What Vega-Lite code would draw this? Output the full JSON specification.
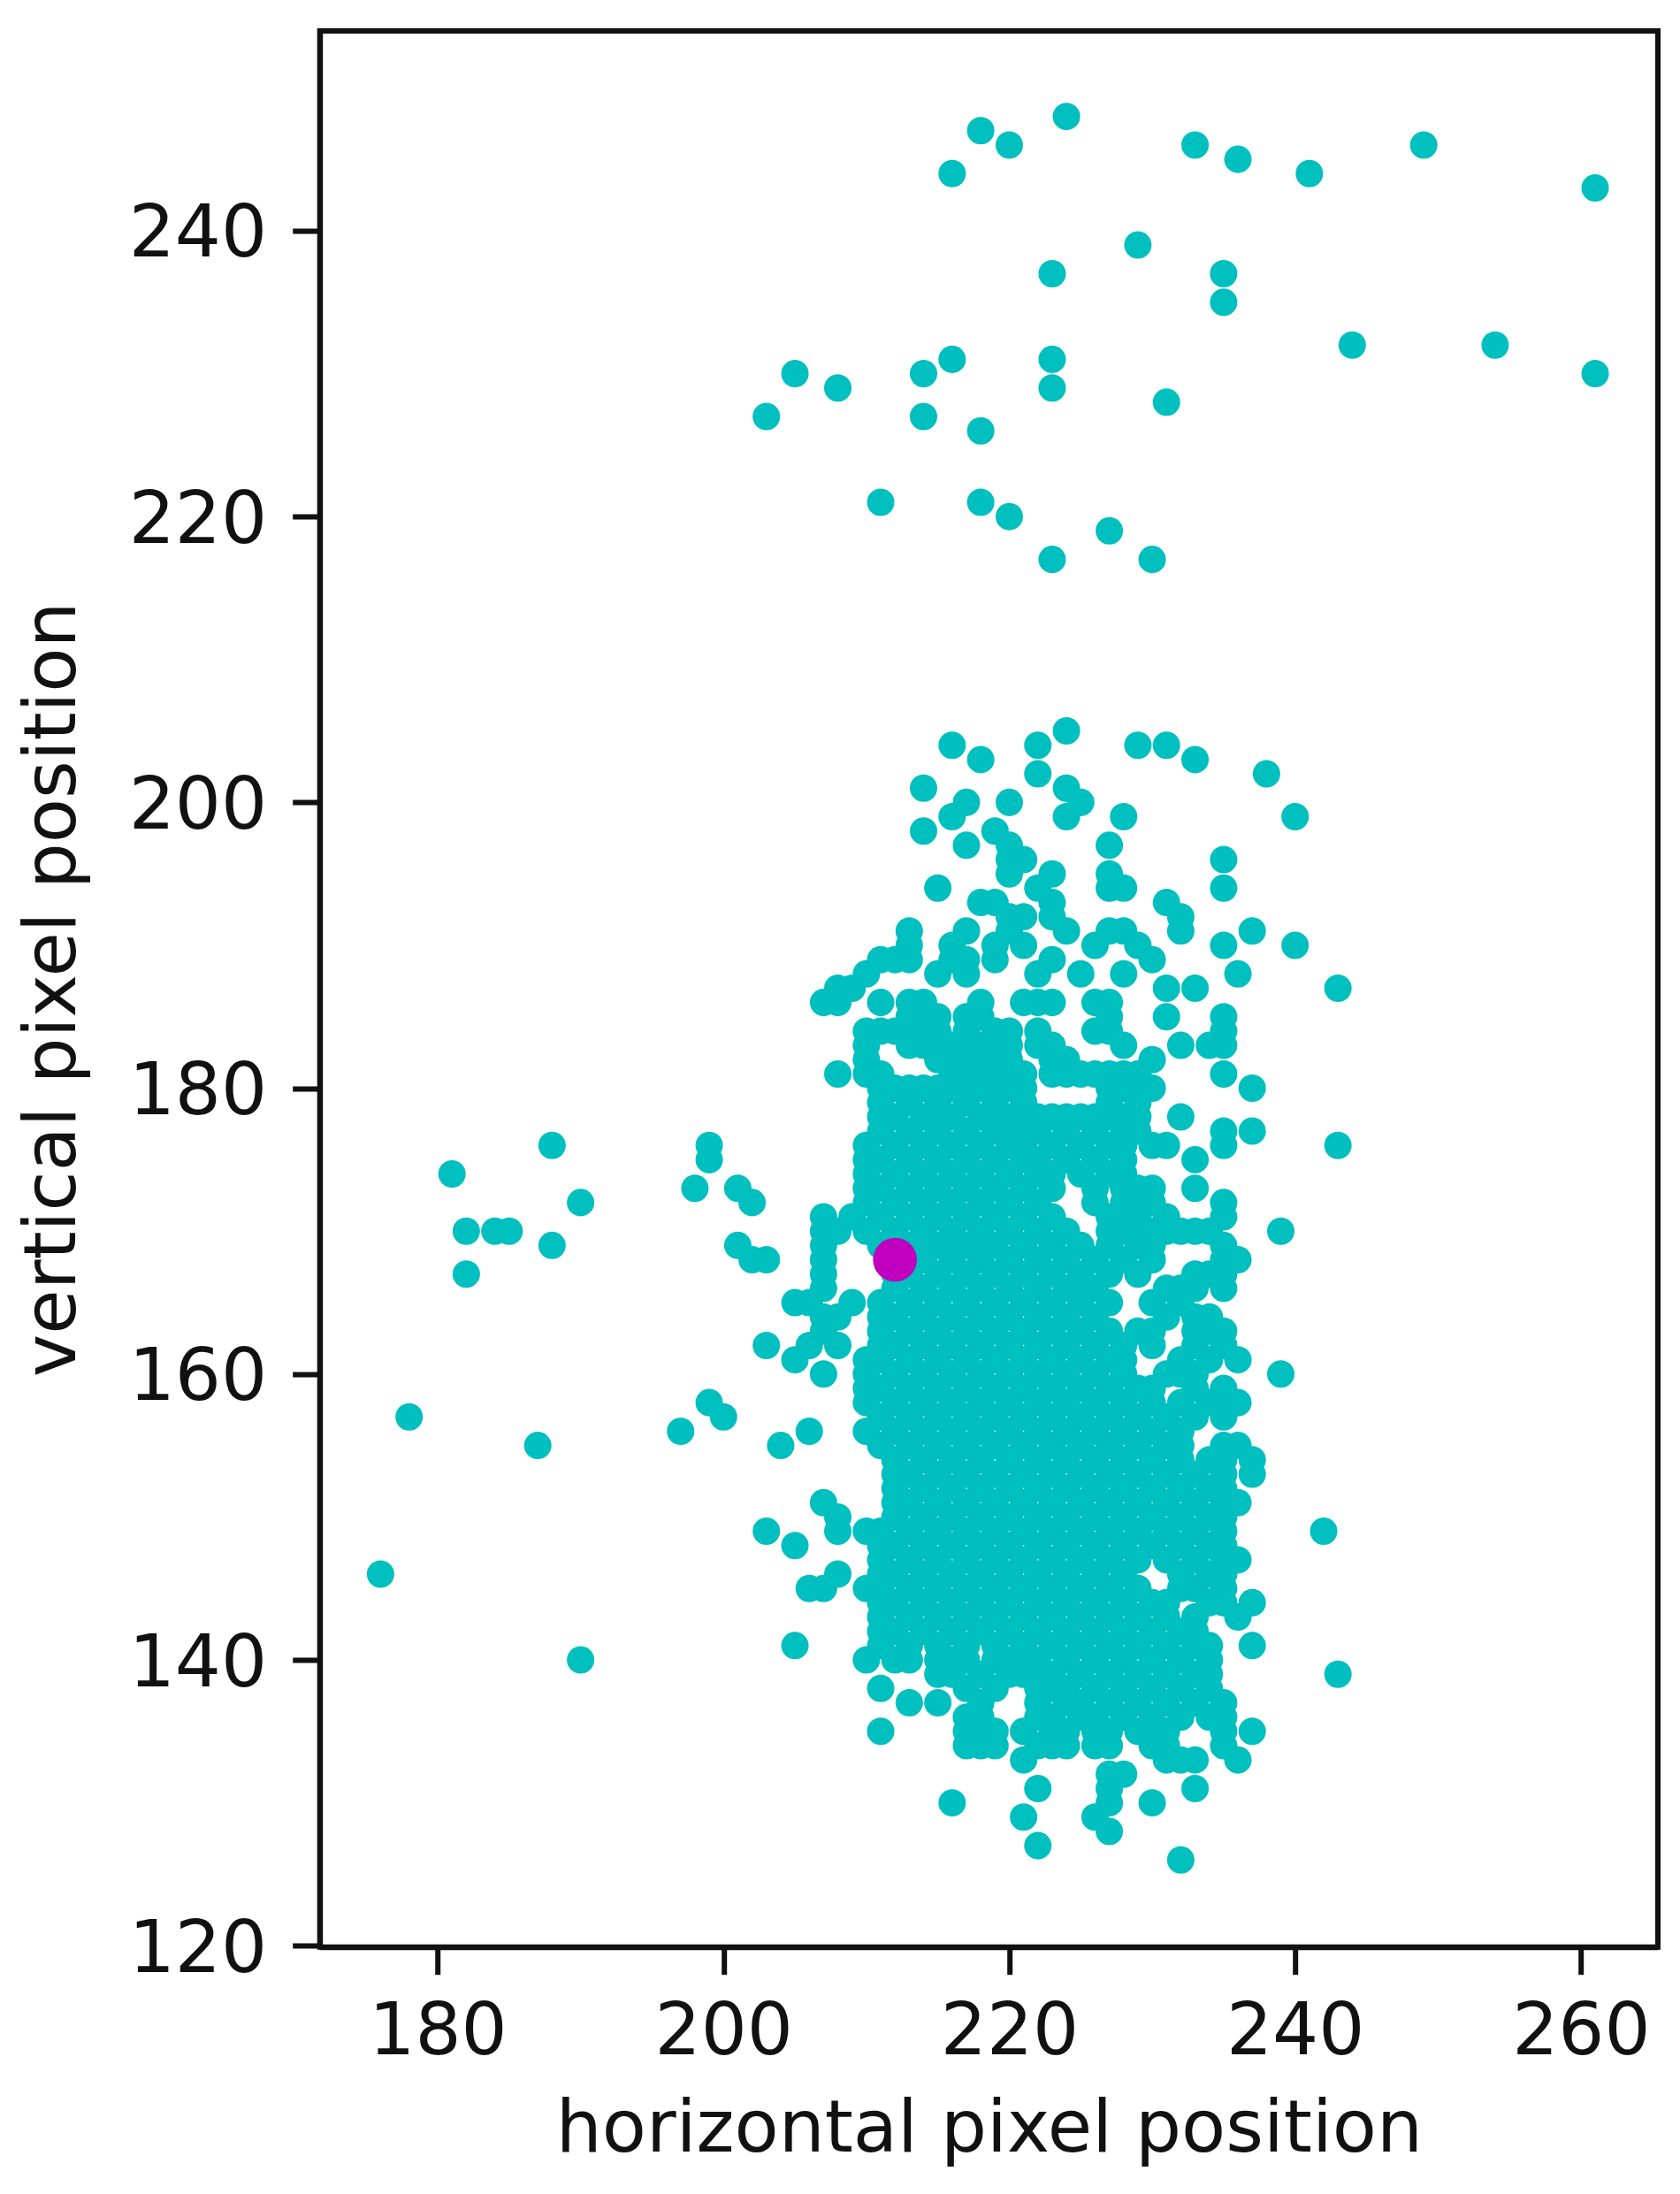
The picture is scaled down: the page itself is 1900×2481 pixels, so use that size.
{"$schema":"https://vega.github.io/schema/vega-lite/v6.json","width":1513.3,"height":2166.7,"autosize":{"type":"none"},"padding":{"left":361.7,"top":35,"right":25,"bottom":279.3},"background":"white","config":{"view":{"stroke":"#111","strokeWidth":6},"font":"DejaVu Sans"},
"datasets":{"cloud":[
{"x":224,"y":248},{"x":218,"y":247},{"x":220,"y":246},{"x":233,"y":246},{"x":249,"y":246},{"x":236,"y":245},{"x":216,"y":244},{"x":241,"y":244},{"x":261,"y":243},{"x":229,"y":239},{"x":223,"y":237},{"x":235,"y":237},{"x":235,"y":235},{"x":244,"y":232},{"x":254,"y":232},{"x":216,"y":231},{"x":223,"y":231},{"x":205,"y":230},{"x":214,"y":230},{"x":261,"y":230},{"x":208,"y":229},{"x":223,"y":229},{"x":231,"y":228},{"x":203,"y":227},{"x":214,"y":227},{"x":218,"y":226},{"x":211,"y":221},{"x":218,"y":221},{"x":220,"y":220},{"x":227,"y":219},{"x":223,"y":217},{"x":230,"y":217},
{"x":181,"y":174},{"x":182,"y":170},{"x":184,"y":170},{"x":185,"y":170},{"x":182,"y":167},{"x":188,"y":176},{"x":188,"y":169},{"x":190,"y":172},{"x":178,"y":157},{"x":187,"y":155},{"x":176,"y":146},{"x":190,"y":140},{"x":199,"y":176},{"x":199,"y":175},{"x":198,"y":173},{"x":201,"y":173},{"x":202,"y":172},{"x":201,"y":169},{"x":202,"y":168},{"x":203,"y":168},{"x":205,"y":165},{"x":203,"y":162},{"x":205,"y":161},{"x":199,"y":158},{"x":200,"y":157},{"x":197,"y":156},{"x":204,"y":155},{"x":206,"y":156},{"x":203,"y":149},{"x":205,"y":148},{"x":205,"y":141},{"x":206,"y":145},{"x":207,"y":145},
{"x":224,"y":205},{"x":216,"y":204},{"x":222,"y":204},{"x":229,"y":204},{"x":231,"y":204},{"x":218,"y":203},{"x":233,"y":203},{"x":222,"y":202},{"x":238,"y":202},{"x":214,"y":201},{"x":224,"y":201},{"x":217,"y":200},{"x":220,"y":200},{"x":225,"y":200},{"x":216,"y":199},{"x":224,"y":199},{"x":228,"y":199},{"x":240,"y":199},{"x":214,"y":198},{"x":219,"y":198},{"x":217,"y":197},{"x":220,"y":197},{"x":227,"y":197},{"x":221,"y":196},{"x":220,"y":196},{"x":235,"y":196},{"x":220,"y":195},{"x":223,"y":195},{"x":227,"y":195},{"x":215,"y":194},{"x":222,"y":194},{"x":227,"y":194},{"x":228,"y":194},{"x":235,"y":194},{"x":218,"y":193},{"x":219,"y":193},{"x":223,"y":193},{"x":231,"y":193},{"x":220,"y":192},{"x":221,"y":192},{"x":223,"y":192},{"x":232,"y":192},{"x":213,"y":191},{"x":217,"y":191},{"x":220,"y":191},{"x":224,"y":191},{"x":227,"y":191},{"x":228,"y":191},{"x":232,"y":191},{"x":237,"y":191},{"x":213,"y":190},{"x":216,"y":190},{"x":219,"y":190},{"x":221,"y":190},{"x":226,"y":190},{"x":229,"y":190},{"x":235,"y":190},{"x":240,"y":190},{"x":211,"y":189},{"x":212,"y":189},{"x":213,"y":189},{"x":216,"y":189},{"x":217,"y":189},{"x":219,"y":189},{"x":223,"y":189},{"x":230,"y":189},{"x":210,"y":188},{"x":215,"y":188},{"x":217,"y":188},{"x":222,"y":188},{"x":225,"y":188},{"x":228,"y":188},{"x":236,"y":188},{"x":208,"y":187},{"x":209,"y":187},{"x":231,"y":187},{"x":233,"y":187},{"x":243,"y":187},{"x":207,"y":186},{"x":208,"y":186},{"x":211,"y":186},{"x":213,"y":186},{"x":214,"y":186},{"x":218,"y":186},{"x":221,"y":186},{"x":222,"y":186},{"x":223,"y":186},{"x":226,"y":186},{"x":227,"y":186},{"x":213,"y":185},{"x":214,"y":185},{"x":215,"y":185},{"x":217,"y":185},{"x":218,"y":185},{"x":227,"y":185},{"x":231,"y":185},{"x":235,"y":185},
{"x":210,"y":184},{"x":211,"y":184},{"x":212,"y":184},{"x":213,"y":184},{"x":214,"y":184},{"x":215,"y":184},{"x":217,"y":184},{"x":219,"y":184},{"x":220,"y":184},{"x":222,"y":184},{"x":226,"y":184},{"x":227,"y":184},{"x":235,"y":184},
{"x":210,"y":183},{"x":213,"y":183},{"x":214,"y":183},{"x":215,"y":183},{"x":216,"y":183},{"x":217,"y":183},{"x":218,"y":183},{"x":219,"y":183},{"x":220,"y":183},{"x":222,"y":183},{"x":223,"y":183},{"x":228,"y":183},{"x":232,"y":183},{"x":234,"y":183},{"x":235,"y":183},
{"x":210,"y":182},{"x":215,"y":182},{"x":216,"y":182},{"x":217,"y":182},{"x":218,"y":182},{"x":219,"y":182},{"x":220,"y":182},{"x":223,"y":182},{"x":224,"y":182},{"x":230,"y":182},
{"x":208,"y":181},{"x":210,"y":181},{"x":211,"y":181},{"x":216,"y":181},{"x":217,"y":181},{"x":218,"y":181},{"x":219,"y":181},{"x":220,"y":181},{"x":221,"y":181},{"x":223,"y":181},{"x":224,"y":181},{"x":225,"y":181},{"x":226,"y":181},{"x":227,"y":181},{"x":228,"y":181},{"x":229,"y":181},{"x":235,"y":181},
{"x":211,"y":180},{"x":212,"y":180},{"x":213,"y":180},{"x":214,"y":180},{"x":215,"y":180},{"x":216,"y":180},{"x":217,"y":180},{"x":218,"y":180},{"x":219,"y":180},{"x":220,"y":180},{"x":221,"y":180},{"x":227,"y":180},{"x":228,"y":180},{"x":229,"y":180},{"x":230,"y":180},{"x":237,"y":180},
{"x":211,"y":179},{"x":213,"y":179},{"x":215,"y":179},{"x":217,"y":179},{"x":219,"y":179},{"x":221,"y":179},{"x":227,"y":179},{"x":229,"y":179},
{"x":211,"y":178},{"x":212,"y":178},{"x":214,"y":178},{"x":215,"y":178},{"x":216,"y":178},{"x":218,"y":178},{"x":219,"y":178},{"x":220,"y":178},{"x":221,"y":178},{"x":222,"y":178},{"x":223,"y":178},{"x":224,"y":178},{"x":225,"y":178},{"x":226,"y":178},{"x":227,"y":178},{"x":228,"y":178},{"x":229,"y":178},{"x":232,"y":178},
{"x":211,"y":177},{"x":213,"y":177},{"x":215,"y":177},{"x":217,"y":177},{"x":219,"y":177},{"x":220,"y":177},{"x":221,"y":177},{"x":222,"y":177},{"x":224,"y":177},{"x":226,"y":177},{"x":228,"y":177},{"x":229,"y":177},{"x":235,"y":177},{"x":237,"y":177},
{"x":210,"y":176},{"x":212,"y":176},{"x":214,"y":176},{"x":216,"y":176},{"x":218,"y":176},{"x":220,"y":176},{"x":221,"y":176},{"x":223,"y":176},{"x":225,"y":176},{"x":227,"y":176},{"x":228,"y":176},{"x":230,"y":176},{"x":231,"y":176},{"x":235,"y":176},{"x":243,"y":176},
{"x":210,"y":175},{"x":211,"y":175},{"x":213,"y":175},{"x":215,"y":175},{"x":217,"y":175},{"x":219,"y":175},{"x":221,"y":175},{"x":222,"y":175},{"x":224,"y":175},{"x":226,"y":175},{"x":228,"y":175},{"x":233,"y":175},
{"x":210,"y":174},{"x":212,"y":174},{"x":214,"y":174},{"x":216,"y":174},{"x":218,"y":174},{"x":220,"y":174},{"x":222,"y":174},{"x":223,"y":174},{"x":225,"y":174},{"x":227,"y":174},{"x":228,"y":174},
{"x":210,"y":173},{"x":211,"y":173},{"x":213,"y":173},{"x":215,"y":173},{"x":217,"y":173},{"x":219,"y":173},{"x":221,"y":173},{"x":223,"y":173},{"x":226,"y":173},{"x":228,"y":173},{"x":229,"y":173},{"x":230,"y":173},{"x":233,"y":173},
{"x":210,"y":172},{"x":212,"y":172},{"x":214,"y":172},{"x":216,"y":172},{"x":218,"y":172},{"x":220,"y":172},{"x":222,"y":172},{"x":226,"y":172},{"x":228,"y":172},{"x":229,"y":172},{"x":230,"y":172},{"x":235,"y":172},
{"x":207,"y":171},{"x":209,"y":171},{"x":211,"y":171},{"x":213,"y":171},{"x":215,"y":171},{"x":217,"y":171},{"x":219,"y":171},{"x":221,"y":171},{"x":223,"y":171},{"x":227,"y":171},{"x":228,"y":171},{"x":229,"y":171},{"x":231,"y":171},{"x":235,"y":171},
{"x":207,"y":170},{"x":208,"y":170},{"x":210,"y":170},{"x":212,"y":170},{"x":214,"y":170},{"x":216,"y":170},{"x":218,"y":170},{"x":220,"y":170},{"x":222,"y":170},{"x":224,"y":170},{"x":227,"y":170},{"x":228,"y":170},{"x":229,"y":170},{"x":230,"y":170},{"x":231,"y":170},{"x":232,"y":170},{"x":233,"y":170},{"x":234,"y":170},{"x":239,"y":170},
{"x":207,"y":169},{"x":211,"y":169},{"x":212,"y":169},{"x":213,"y":169},{"x":214,"y":169},{"x":215,"y":169},{"x":216,"y":169},{"x":217,"y":169},{"x":218,"y":169},{"x":219,"y":169},{"x":221,"y":169},{"x":223,"y":169},{"x":225,"y":169},{"x":227,"y":169},{"x":229,"y":169},{"x":230,"y":169},{"x":235,"y":169},
{"x":207,"y":168},{"x":212,"y":168},{"x":214,"y":168},{"x":216,"y":168},{"x":218,"y":168},{"x":220,"y":168},{"x":222,"y":168},{"x":224,"y":168},{"x":226,"y":168},{"x":228,"y":168},{"x":230,"y":168},{"x":235,"y":168},{"x":236,"y":168},
{"x":207,"y":167},{"x":212,"y":167},{"x":213,"y":167},{"x":215,"y":167},{"x":217,"y":167},{"x":219,"y":167},{"x":221,"y":167},{"x":223,"y":167},{"x":225,"y":167},{"x":227,"y":167},{"x":229,"y":167},{"x":233,"y":167},{"x":234,"y":167},{"x":235,"y":167},
{"x":207,"y":166},{"x":212,"y":166},{"x":214,"y":166},{"x":216,"y":166},{"x":218,"y":166},{"x":220,"y":166},{"x":222,"y":166},{"x":224,"y":166},{"x":225,"y":166},{"x":226,"y":166},{"x":231,"y":166},{"x":232,"y":166},{"x":233,"y":166},{"x":235,"y":166},
{"x":206,"y":165},{"x":209,"y":165},{"x":211,"y":165},{"x":213,"y":165},{"x":215,"y":165},{"x":217,"y":165},{"x":219,"y":165},{"x":221,"y":165},{"x":223,"y":165},{"x":225,"y":165},{"x":227,"y":165},{"x":230,"y":165},{"x":232,"y":165},
{"x":207,"y":164},{"x":208,"y":164},{"x":211,"y":164},{"x":212,"y":164},{"x":214,"y":164},{"x":216,"y":164},{"x":218,"y":164},{"x":220,"y":164},{"x":222,"y":164},{"x":224,"y":164},{"x":226,"y":164},{"x":231,"y":164},{"x":233,"y":164},{"x":234,"y":164},
{"x":207,"y":163},{"x":211,"y":163},{"x":213,"y":163},{"x":215,"y":163},{"x":217,"y":163},{"x":219,"y":163},{"x":221,"y":163},{"x":223,"y":163},{"x":225,"y":163},{"x":227,"y":163},{"x":229,"y":163},{"x":230,"y":163},{"x":233,"y":163},{"x":234,"y":163},{"x":235,"y":163},
{"x":206,"y":162},{"x":208,"y":162},{"x":211,"y":162},{"x":212,"y":162},{"x":214,"y":162},{"x":216,"y":162},{"x":218,"y":162},{"x":220,"y":162},{"x":222,"y":162},{"x":224,"y":162},{"x":226,"y":162},{"x":228,"y":162},{"x":230,"y":162},{"x":233,"y":162},{"x":235,"y":162},
{"x":210,"y":161},{"x":211,"y":161},{"x":213,"y":161},{"x":215,"y":161},{"x":217,"y":161},{"x":219,"y":161},{"x":221,"y":161},{"x":223,"y":161},{"x":225,"y":161},{"x":227,"y":161},{"x":228,"y":161},{"x":232,"y":161},{"x":234,"y":161},{"x":236,"y":161},
{"x":207,"y":160},{"x":210,"y":160},{"x":212,"y":160},{"x":214,"y":160},{"x":216,"y":160},{"x":218,"y":160},{"x":220,"y":160},{"x":222,"y":160},{"x":224,"y":160},{"x":226,"y":160},{"x":228,"y":160},{"x":231,"y":160},{"x":232,"y":160},{"x":233,"y":160},{"x":239,"y":160},
{"x":210,"y":159},{"x":211,"y":159},{"x":213,"y":159},{"x":215,"y":159},{"x":217,"y":159},{"x":219,"y":159},{"x":221,"y":159},{"x":223,"y":159},{"x":225,"y":159},{"x":227,"y":159},{"x":229,"y":159},{"x":230,"y":159},{"x":233,"y":159},{"x":235,"y":159},
{"x":210,"y":158},{"x":212,"y":158},{"x":214,"y":158},{"x":216,"y":158},{"x":218,"y":158},{"x":220,"y":158},{"x":222,"y":158},{"x":224,"y":158},{"x":226,"y":158},{"x":228,"y":158},{"x":230,"y":158},{"x":232,"y":158},{"x":234,"y":158},{"x":235,"y":158},{"x":236,"y":158},
{"x":211,"y":157},{"x":213,"y":157},{"x":215,"y":157},{"x":217,"y":157},{"x":219,"y":157},{"x":221,"y":157},{"x":223,"y":157},{"x":225,"y":157},{"x":227,"y":157},{"x":229,"y":157},{"x":231,"y":157},{"x":233,"y":157},{"x":235,"y":157},
{"x":210,"y":156},{"x":212,"y":156},{"x":214,"y":156},{"x":216,"y":156},{"x":218,"y":156},{"x":220,"y":156},{"x":222,"y":156},{"x":224,"y":156},{"x":226,"y":156},{"x":228,"y":156},{"x":230,"y":156},{"x":232,"y":156},
{"x":211,"y":155},{"x":213,"y":155},{"x":215,"y":155},{"x":217,"y":155},{"x":219,"y":155},{"x":221,"y":155},{"x":223,"y":155},{"x":225,"y":155},{"x":227,"y":155},{"x":229,"y":155},{"x":231,"y":155},{"x":232,"y":155},{"x":235,"y":155},{"x":236,"y":155},
{"x":212,"y":154},{"x":214,"y":154},{"x":216,"y":154},{"x":218,"y":154},{"x":220,"y":154},{"x":222,"y":154},{"x":224,"y":154},{"x":226,"y":154},{"x":228,"y":154},{"x":230,"y":154},{"x":232,"y":154},{"x":234,"y":154},{"x":235,"y":154},{"x":237,"y":154},
{"x":212,"y":153},{"x":213,"y":153},{"x":215,"y":153},{"x":217,"y":153},{"x":219,"y":153},{"x":221,"y":153},{"x":223,"y":153},{"x":225,"y":153},{"x":227,"y":153},{"x":229,"y":153},{"x":231,"y":153},{"x":233,"y":153},{"x":235,"y":153},{"x":237,"y":153},
{"x":212,"y":152},{"x":214,"y":152},{"x":216,"y":152},{"x":218,"y":152},{"x":220,"y":152},{"x":222,"y":152},{"x":224,"y":152},{"x":226,"y":152},{"x":228,"y":152},{"x":230,"y":152},{"x":232,"y":152},{"x":234,"y":152},{"x":235,"y":152},
{"x":207,"y":151},{"x":212,"y":151},{"x":213,"y":151},{"x":215,"y":151},{"x":217,"y":151},{"x":219,"y":151},{"x":221,"y":151},{"x":223,"y":151},{"x":225,"y":151},{"x":227,"y":151},{"x":229,"y":151},{"x":231,"y":151},{"x":233,"y":151},{"x":235,"y":151},{"x":236,"y":151},
{"x":208,"y":150},{"x":212,"y":150},{"x":214,"y":150},{"x":216,"y":150},{"x":218,"y":150},{"x":220,"y":150},{"x":222,"y":150},{"x":224,"y":150},{"x":226,"y":150},{"x":228,"y":150},{"x":230,"y":150},{"x":232,"y":150},{"x":234,"y":150},{"x":235,"y":150},
{"x":208,"y":149},{"x":210,"y":149},{"x":211,"y":149},{"x":213,"y":149},{"x":215,"y":149},{"x":217,"y":149},{"x":219,"y":149},{"x":221,"y":149},{"x":223,"y":149},{"x":225,"y":149},{"x":227,"y":149},{"x":229,"y":149},{"x":231,"y":149},{"x":233,"y":149},{"x":235,"y":149},{"x":242,"y":149},
{"x":211,"y":148},{"x":212,"y":148},{"x":214,"y":148},{"x":216,"y":148},{"x":218,"y":148},{"x":220,"y":148},{"x":222,"y":148},{"x":224,"y":148},{"x":226,"y":148},{"x":228,"y":148},{"x":230,"y":148},{"x":232,"y":148},{"x":234,"y":148},{"x":235,"y":148},
{"x":211,"y":147},{"x":213,"y":147},{"x":215,"y":147},{"x":217,"y":147},{"x":219,"y":147},{"x":221,"y":147},{"x":223,"y":147},{"x":225,"y":147},{"x":227,"y":147},{"x":229,"y":147},{"x":231,"y":147},{"x":233,"y":147},{"x":235,"y":147},{"x":236,"y":147},
{"x":208,"y":146},{"x":211,"y":146},{"x":212,"y":146},{"x":214,"y":146},{"x":216,"y":146},{"x":218,"y":146},{"x":220,"y":146},{"x":222,"y":146},{"x":224,"y":146},{"x":226,"y":146},{"x":228,"y":146},{"x":232,"y":146},{"x":234,"y":146},{"x":235,"y":146},
{"x":210,"y":145},{"x":211,"y":145},{"x":213,"y":145},{"x":215,"y":145},{"x":217,"y":145},{"x":219,"y":145},{"x":221,"y":145},{"x":223,"y":145},{"x":225,"y":145},{"x":227,"y":145},{"x":229,"y":145},{"x":232,"y":145},{"x":233,"y":145},{"x":235,"y":145},
{"x":211,"y":144},{"x":212,"y":144},{"x":214,"y":144},{"x":216,"y":144},{"x":218,"y":144},{"x":220,"y":144},{"x":222,"y":144},{"x":224,"y":144},{"x":226,"y":144},{"x":228,"y":144},{"x":230,"y":144},{"x":231,"y":144},{"x":234,"y":144},{"x":235,"y":144},{"x":237,"y":144},
{"x":211,"y":143},{"x":213,"y":143},{"x":215,"y":143},{"x":217,"y":143},{"x":219,"y":143},{"x":221,"y":143},{"x":223,"y":143},{"x":225,"y":143},{"x":227,"y":143},{"x":229,"y":143},{"x":231,"y":143},{"x":233,"y":143},{"x":236,"y":143},
{"x":211,"y":142},{"x":212,"y":142},{"x":214,"y":142},{"x":216,"y":142},{"x":218,"y":142},{"x":220,"y":142},{"x":222,"y":142},{"x":224,"y":142},{"x":226,"y":142},{"x":228,"y":142},{"x":230,"y":142},{"x":232,"y":142},{"x":233,"y":142},
{"x":211,"y":141},{"x":213,"y":141},{"x":215,"y":141},{"x":217,"y":141},{"x":219,"y":141},{"x":221,"y":141},{"x":223,"y":141},{"x":225,"y":141},{"x":227,"y":141},{"x":229,"y":141},{"x":231,"y":141},{"x":233,"y":141},{"x":234,"y":141},{"x":237,"y":141},
{"x":210,"y":140},{"x":212,"y":140},{"x":213,"y":140},{"x":215,"y":140},{"x":216,"y":140},{"x":217,"y":140},{"x":219,"y":140},{"x":220,"y":140},{"x":221,"y":140},{"x":222,"y":140},{"x":224,"y":140},{"x":226,"y":140},{"x":228,"y":140},{"x":230,"y":140},{"x":232,"y":140},{"x":234,"y":140},
{"x":215,"y":139},{"x":216,"y":139},{"x":218,"y":139},{"x":220,"y":139},{"x":221,"y":139},{"x":222,"y":139},{"x":223,"y":139},{"x":225,"y":139},{"x":227,"y":139},{"x":229,"y":139},{"x":231,"y":139},{"x":233,"y":139},{"x":234,"y":139},{"x":243,"y":139},
{"x":211,"y":138},{"x":217,"y":138},{"x":219,"y":138},{"x":222,"y":138},{"x":223,"y":138},{"x":224,"y":138},{"x":226,"y":138},{"x":228,"y":138},{"x":230,"y":138},{"x":232,"y":138},{"x":234,"y":138},
{"x":213,"y":137},{"x":215,"y":137},{"x":218,"y":137},{"x":222,"y":137},{"x":224,"y":137},{"x":225,"y":137},{"x":227,"y":137},{"x":229,"y":137},{"x":231,"y":137},{"x":233,"y":137},{"x":235,"y":137},
{"x":217,"y":136},{"x":218,"y":136},{"x":222,"y":136},{"x":223,"y":136},{"x":225,"y":136},{"x":226,"y":136},{"x":228,"y":136},{"x":230,"y":136},{"x":232,"y":136},{"x":234,"y":136},{"x":235,"y":136},
{"x":211,"y":135},{"x":217,"y":135},{"x":218,"y":135},{"x":219,"y":135},{"x":221,"y":135},{"x":223,"y":135},{"x":224,"y":135},{"x":226,"y":135},{"x":227,"y":135},{"x":229,"y":135},{"x":230,"y":135},{"x":231,"y":135},{"x":235,"y":135},{"x":237,"y":135},
{"x":217,"y":134},{"x":218,"y":134},{"x":219,"y":134},{"x":222,"y":134},{"x":223,"y":134},{"x":224,"y":134},{"x":226,"y":134},{"x":227,"y":134},{"x":230,"y":134},{"x":231,"y":134},{"x":235,"y":134},
{"x":221,"y":133},{"x":231,"y":133},{"x":232,"y":133},{"x":233,"y":133},{"x":236,"y":133},
{"x":227,"y":132},{"x":228,"y":132},{"x":222,"y":131},{"x":227,"y":131},{"x":233,"y":131},{"x":216,"y":130},{"x":227,"y":130},{"x":230,"y":130},{"x":221,"y":129},{"x":226,"y":129},{"x":227,"y":128},{"x":222,"y":127},{"x":232,"y":126}
],"focus":[{"x":212,"y":168}]},
"encoding":{
"x":{"field":"x","type":"quantitative","title":"horizontal pixel position","scale":{"domain":[171.75,265.39],"nice":false,"zero":false},"axis":{"values":[180,200,220,240,260],"grid":false,"domainColor":"#111","domainWidth":6,"tickColor":"#111","tickWidth":6,"tickSize":31,"labelFontSize":82,"labelColor":"#111","labelPadding":25,"labelFont":"DejaVu Sans","titleFont":"DejaVu Sans","titleFontSize":82,"titleFontWeight":"normal","titleColor":"#111","titlePadding":29}},
"y":{"field":"y","type":"quantitative","title":"vertical pixel position","scale":{"domain":[119.91,253.98],"nice":false,"zero":false},"axis":{"values":[120,140,160,180,200,220,240],"grid":false,"domainColor":"#111","domainWidth":6,"tickColor":"#111","tickWidth":6,"tickSize":31,"labelFontSize":82,"labelColor":"#111","labelPadding":29,"labelOffset":4,"labelFont":"DejaVu Sans","titleFont":"DejaVu Sans","titleFontSize":82,"titleFontWeight":"normal","titleColor":"#111","titlePadding":60}}
},
"layer":[
{"data":{"name":"cloud"},"mark":{"type":"circle","color":"#00BFBF","opacity":1,"size":962}},
{"data":{"name":"focus"},"mark":{"type":"circle","color":"#BF00BF","opacity":1,"size":2463}}
]}
